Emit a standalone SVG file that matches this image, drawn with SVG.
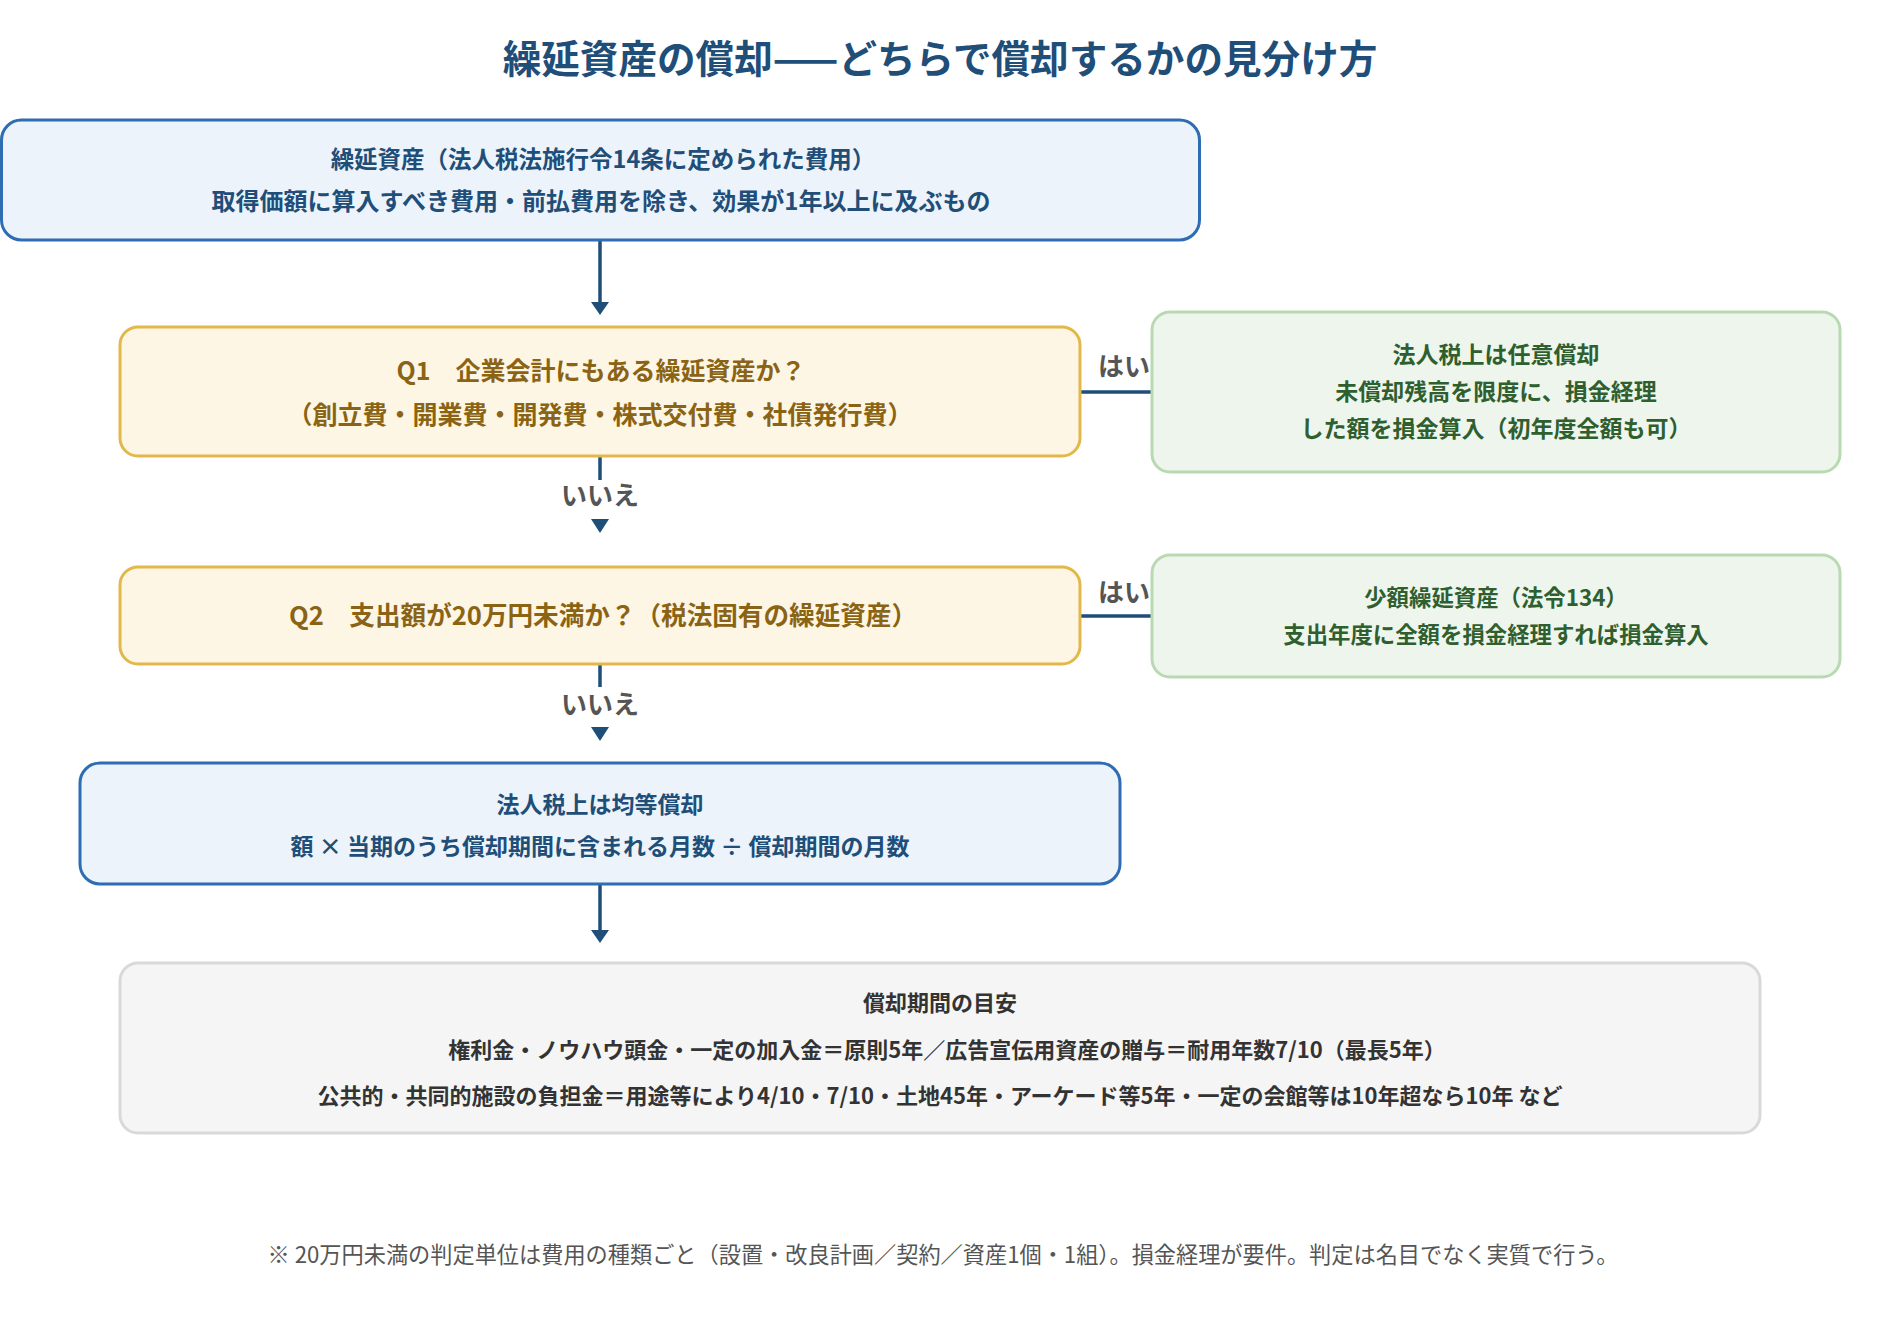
<svg xmlns="http://www.w3.org/2000/svg" width="1880" height="1320" viewBox="0 0 1880 1320">
<style>
text{font-family:"Noto Sans CJK JP","Noto Sans CJK SC",sans-serif;text-anchor:middle}
.title{font-size:38.6px;font-weight:700;fill:#1f4e79}
.blue rect{fill:#ecf3fb;stroke:#2f6db3;stroke-width:3}
.blue text{font-size:24px;font-weight:700;fill:#1f4e79}
.q rect{fill:#fef6e4;stroke:#e2b84b;stroke-width:3}
.q text{font-size:25px;font-weight:700;fill:#8a6414}
.g rect{fill:#eef5ec;stroke:#b8d9b2;stroke-width:3}
.g text{font-size:23px;font-weight:700;fill:#2f5f2f}
.gray rect{fill:#f5f5f5;stroke:#d9d9d9;stroke-width:3}
.gray text{font-size:22px;font-weight:700;fill:#333}
.lbl{font-size:26px;font-weight:700;fill:#555}
.foot{font-size:22.2px;fill:#555}
.conn line{stroke:#1f4e79;stroke-width:3.5;fill:none}
.conn path{fill:#1f4e79}
</style>
<rect width="1880" height="1320" fill="#fff"/>
<text class="title" x="940" y="73">繰延資産の償却——どちらで償却するかの見分け方</text>

<g id="connectors" class="conn">
<line x1="600" y1="240" x2="600" y2="304"/>
<path d="M591,302 L609,302 L600,315 Z"/>
<line x1="600" y1="456" x2="600" y2="480"/>
<text class="lbl" x="600" y="505">いいえ</text>
<path d="M591,519 L609,519 L600,533 Z"/>
<line x1="600" y1="664" x2="600" y2="687"/>
<text class="lbl" x="600" y="714">いいえ</text>
<path d="M591,727 L609,727 L600,741 Z"/>
<line x1="600" y1="884" x2="600" y2="932"/>
<path d="M591,930 L609,930 L600,943 Z"/>
<line x1="1080" y1="392" x2="1152" y2="392"/>
<text class="lbl" x="1124" y="376">はい</text>
<line x1="1080" y1="616" x2="1152" y2="616"/>
<text class="lbl" x="1124" y="602">はい</text>
</g>

<g id="start" class="blue">
<rect x="1.5" y="120" width="1198" height="120" rx="20"/>
<text x="603" y="168" style="font-size:23.5px">繰延資産（法人税法施行令14条に定められた費用）</text>
<text x="601" y="210">取得価額に算入すべき費用・前払費用を除き、効果が1年以上に及ぶもの</text>
</g>

<g id="q1" class="q">
<rect x="120" y="327" width="960" height="129" rx="18"/>
<text x="601" y="380">Q1　企業会計にもある繰延資産か？</text>
<text x="600" y="424">（創立費・開業費・開発費・株式交付費・社債発行費）</text>
</g>

<g id="yes1" class="g">
<rect x="1152" y="312" width="688" height="160" rx="18"/>
<text x="1496" y="363">法人税上は任意償却</text>
<text x="1496" y="400">未償却残高を限度に、損金経理</text>
<text x="1496" y="437">した額を損金算入（初年度全額も可）</text>
</g>

<g id="q2" class="q">
<rect x="120" y="567" width="960" height="97" rx="18"/>
<text x="603" y="625" style="font-size:25.6px">Q2　支出額が20万円未満か？（税法固有の繰延資産）</text>
</g>

<g id="yes2" class="g">
<rect x="1152" y="555" width="688" height="122" rx="18"/>
<text x="1496" y="606" style="font-size:22.4px">少額繰延資産（法令134）</text>
<text x="1496" y="643" style="font-size:22.4px">支出年度に全額を損金経理すれば損金算入</text>
</g>

<g id="equal" class="blue">
<rect x="80" y="763" width="1040" height="121" rx="20"/>
<text x="600" y="813" style="font-size:23px">法人税上は均等償却</text>
<text x="600" y="855" style="font-size:23px">額 × 当期のうち償却期間に含まれる月数 ÷ 償却期間の月数</text>
</g>

<g id="periods" class="gray">
<rect x="120" y="963" width="1640" height="170" rx="18"/>
<text x="940" y="1011">償却期間の目安</text>
<text x="947" y="1058">権利金・ノウハウ頭金・一定の加入金＝原則5年／広告宣伝用資産の贈与＝耐用年数7/10（最長5年）</text>
<text x="940" y="1104">公共的・共同的施設の負担金＝用途等により4/10・7/10・土地45年・アーケード等5年・一定の会館等は10年超なら10年 など</text>
</g>

<text class="foot" x="943" y="1263">※ 20万円未満の判定単位は費用の種類ごと（設置・改良計画／契約／資産1個・1組）。損金経理が要件。判定は名目でなく実質で行う。</text>
</svg>
